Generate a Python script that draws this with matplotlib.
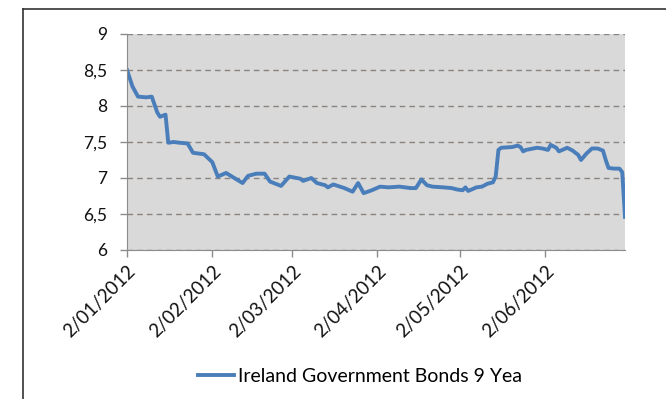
import matplotlib.pyplot as plt
import matplotlib.dates as mdates
from matplotlib.lines import Line2D
import pandas as pd

plt.rcParams['font.family'] = ['Lato', 'DejaVu Sans']

dates = ['2012-01-02', '2012-01-04', '2012-01-06', '2012-01-09', '2012-01-11',
         '2012-01-13', '2012-01-14', '2012-01-16', '2012-01-17', '2012-01-19',
         '2012-01-21', '2012-01-24', '2012-01-26', '2012-01-30', '2012-02-02',
         '2012-02-04', '2012-02-07', '2012-02-10', '2012-02-13', '2012-02-15',
         '2012-02-18', '2012-02-21', '2012-02-23', '2012-02-27', '2012-03-01',
         '2012-03-05', '2012-03-06', '2012-03-09', '2012-03-11', '2012-03-14',
         '2012-03-15', '2012-03-17', '2012-03-21', '2012-03-24', '2012-03-26',
         '2012-03-28', '2012-03-31', '2012-04-03', '2012-04-06', '2012-04-10',
         '2012-04-14', '2012-04-16', '2012-04-18', '2012-04-20', '2012-04-22',
         '2012-04-26', '2012-04-29', '2012-05-01', '2012-05-03', '2012-05-04',
         '2012-05-05', '2012-05-08', '2012-05-10', '2012-05-12', '2012-05-14',
         '2012-05-15', '2012-05-16', '2012-05-17', '2012-05-21', '2012-05-23',
         '2012-05-24', '2012-05-25', '2012-05-26', '2012-05-30', '2012-06-01',
         '2012-06-03', '2012-06-04', '2012-06-06', '2012-06-07', '2012-06-10',
         '2012-06-12', '2012-06-14', '2012-06-15', '2012-06-17', '2012-06-19',
         '2012-06-21', '2012-06-23', '2012-06-24', '2012-06-25', '2012-06-27',
         '2012-06-29', '2012-06-30', '2012-07-01']
yields = [8.50, 8.27, 8.13, 8.12, 8.13,
          7.91, 7.85, 7.88, 7.49, 7.50,
          7.49, 7.48, 7.35, 7.33, 7.22,
          7.02, 7.07, 7.00, 6.93, 7.03,
          7.06, 7.06, 6.95, 6.89, 7.02,
          6.99, 6.96, 7.00, 6.93, 6.90,
          6.87, 6.91, 6.86, 6.81, 6.93,
          6.79, 6.83, 6.88, 6.87, 6.88,
          6.86, 6.86, 6.98, 6.90, 6.88,
          6.87, 6.86, 6.84, 6.83, 6.87,
          6.82, 6.87, 6.88, 6.92, 6.94,
          7.02, 7.39, 7.42, 7.43, 7.45,
          7.43, 7.37, 7.39, 7.42, 7.41,
          7.39, 7.46, 7.42, 7.37, 7.42,
          7.38, 7.32, 7.25, 7.34, 7.41,
          7.41, 7.38, 7.25, 7.14, 7.13,
          7.13, 7.08, 6.46]
tick_dates = ['2012-01-02', '2012-02-02', '2012-03-02',
              '2012-04-02', '2012-05-02', '2012-06-02']
yticks = [6, 6.5, 7, 7.5, 8, 8.5, 9]
ylabels = ['6', '6,5', '7', '7,5', '8', '8,5', '9']
series_name = 'Ireland Government Bonds 9 Yea'

x = pd.to_datetime(dates)
fig = plt.figure(figsize=(6.66, 3.99), dpi=100)
ax = fig.add_axes([127 / 666, 1 - 250 / 399, 498 / 666, 216 / 399])
ax.set_facecolor('#d9d9d9')

ax.plot(x, yields, color='#4a7ebb', lw=2.8, solid_joinstyle='round',
        label=series_name)

ax.set_ylim(6, 9)
ax.set_xlim(pd.Timestamp('2012-01-02'), pd.Timestamp('2012-07-01'))
ax.set_yticks(yticks)
ax.set_yticklabels(ylabels, fontsize=12.5, color='#111111')
ax.set_xticks(pd.to_datetime(tick_dates))
ax.xaxis.set_major_formatter(mdates.DateFormatter('%-d/%m/%Y'))
for lab in ax.get_xticklabels():
    lab.set_rotation(45)
    lab.set_ha('right')
    lab.set_va('top')
    lab.set_rotation_mode('anchor')
    lab.set_fontsize(13.5)
    lab.set_color('#111111')

ax.grid(axis='y', color='#8a8480', ls=(0, (4, 3)), lw=1)
ax.set_axisbelow(True)
ax.tick_params(axis='both', color='#8c8c8c', length=5, width=1)
ax.tick_params(axis='y', pad=9)
ax.tick_params(axis='x', pad=4)
for s in ['top', 'right']:
    ax.spines[s].set_visible(False)
for s in ['left', 'bottom']:
    ax.spines[s].set_color('#8c8c8c')

fig.legend(loc='center', bbox_to_anchor=(360 / 666, 1 - 376 / 399),
           frameon=False, fontsize=14, handlelength=1.85, handletextpad=0.2)

fig.add_artist(Line2D([23 / 666, 1], [1 - 9 / 399, 1 - 9 / 399],
                      color='#333333', lw=1.2))
fig.add_artist(Line2D([23 / 666, 23 / 666], [0, 1 - 9 / 399],
                      color='#333333', lw=1.2))

fig.savefig('out.png', dpi=100)
